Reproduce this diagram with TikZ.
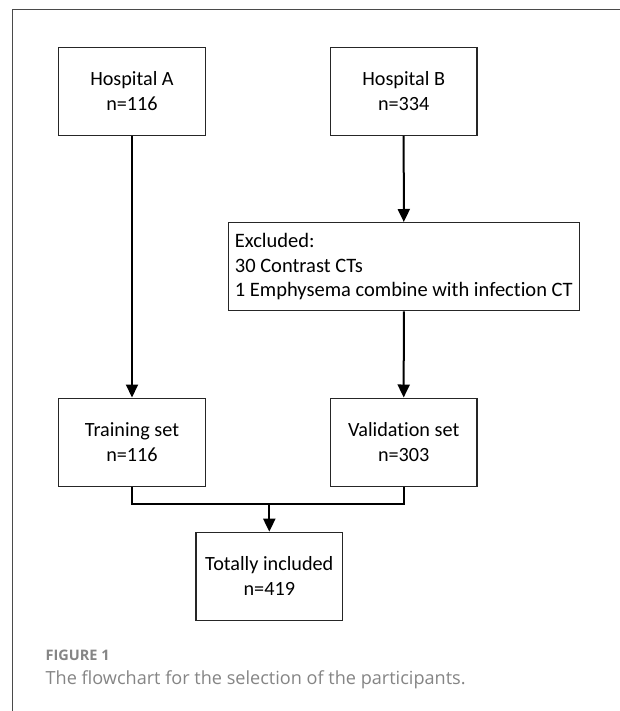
\documentclass[tikz,border=0pt]{standalone}
\usepackage{fontspec}
\setmainfont{Carlito}[Ligatures={NoCommon}]
\newfontfamily\capfont{Open Sans}
\usetikzlibrary{arrows.meta}
\definecolor{framecol}{HTML}{4A4A4A}
\definecolor{capgray}{HTML}{858585}
\begin{document}
\begin{tikzpicture}[x=1pt,y=1pt,
  box/.style={draw=black!85, line width=1.4pt, minimum width=146.6pt, minimum height=88pt,
    inner sep=0pt, align=center, font=\fontsize{20.2}{25}\selectfont},
  exbox/.style={draw=black!85, line width=1.4pt, minimum width=351pt, inner sep=0pt,
    minimum height=88pt, align=left, font=\fontsize{20.5}{24.5}\selectfont},
  conn/.style={line width=2pt, black},
  arr/.style={conn, -{Triangle[length=13pt,width=12pt]}}]
\useasboundingbox (0,0) rectangle (620,-711);
\fill[white] (0,0) rectangle (620,-711);
% frame
\draw[framecol, line width=1pt] (12.3,-711) -- (12.3,-10) -- (620,-10);
% boxes
\node[box] (ha) at (132,-91.3) {Hospital A\\n=116};
\node[box] (hb) at (403.7,-91.3) {Hospital B\\n=334};
\node[exbox] (ex) at (403.8,-266.7) {Excluded:\\30 Contrast CTs\\1 Emphysema combine with infection CT};
\node[box] (tr) at (132,-442.2) {Training set\\n=116};
\node[box] (va) at (403.7,-442.2) {Validation set\\n=303};
\node[box] (to) at (269.3,-576.4) {Totally included\\n=419};
% connectors
\draw[arr] (ha.south) -- (tr.north);
\draw[arr] (hb.south) -- (ex.north);
\draw[arr] (ex.south) -- (va.north);
\coordinate (j) at (269.3,-504.3);
\draw[conn] (tr.south) |- (j) -| (va.south);
\draw[arr] (j) -- (to.north);
% caption
\node[anchor=west, inner sep=0pt, text=capgray, font=\capfont\bfseries\fontsize{14.5}{17}\selectfont] (fig) at (45.5,-655.7) {FIGURE 1};
\node[anchor=west, inner sep=0pt, text=capgray, font=\capfont\fontsize{18.1}{21}\selectfont] (cap) at (45.5,-679.5) {The flowchart for the selection of the participants.};
\end{tikzpicture}
\end{document}
